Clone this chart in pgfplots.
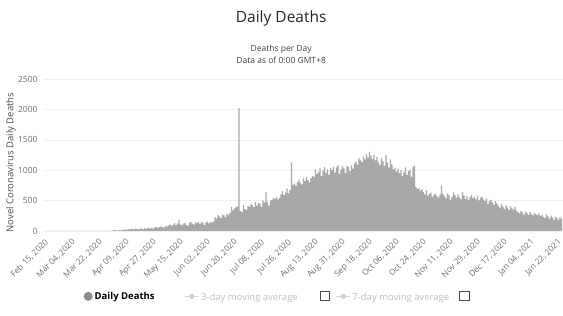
\documentclass[border=0pt]{standalone}
\usepackage{pgfplots}
\pgfplotsset{compat=1.18}
\usepackage{pgfplotstable}
\usepackage{fontspec}
\setmainfont{Open Sans}
\definecolor{bargray}{HTML}{A8A8A8}
\definecolor{ticklab}{HTML}{6E6E6E}
\newcommand\chk{{\setlength\fboxsep{0pt}\setlength\fboxrule{0.6pt}\color{black!70}\fbox{\rule{0pt}{9pt}\rule{9pt}{0pt}}}}
\pgfplotstableread[header=false,row sep=\\]{
0\\0\\0\\0\\0\\0\\0\\0\\0\\0\\
0\\0\\0\\0\\0\\0\\0\\0\\0\\0\\
0\\0\\0\\0\\0\\0\\1\\0\\1\\0\\
1\\0\\1\\3\\2\\1\\4\\3\\2\\6\\
4\\5\\8\\3\\9\\12\\14\\6\\13\\12\\
15\\18\\26\\14\\30\\27\\33\\35\\26\\40\\
32\\28\\38\\43\\25\\48\\36\\47\\52\\40\\
57\\35\\62\\73\\51\\66\\77\\68\\55\\82\\
75\\92\\110\\84\\103\\128\\96\\120\\180\\110\\
95\\122\\134\\100\\89\\137\\148\\116\\104\\140\\
131\\148\\118\\152\\136\\97\\142\\155\\127\\146\\
139\\158\\230\\205\\265\\240\\212\\270\\258\\224\\
285\\260\\300\\395\\340\\372\\388\\405\\2020\\330\\
312\\425\\360\\345\\410\\398\\440\\425\\392\\475\\
418\\462\\450\\398\\505\\470\\640\\482\\418\\505\\
512\\545\\528\\560\\520\\548\\602\\655\\590\\632\\
700\\618\\672\\1130\\760\\778\\742\\805\\850\\790\\
768\\865\\820\\885\\842\\798\\870\\905\\890\\1012\\
940\\968\\1035\\902\\992\\1050\\958\\1015\\925\\1040\\
1005\\1060\\962\\1045\\1078\\940\\1012\\1065\\1030\\950\\
1072\\1050\\985\\1080\\1025\\1112\\1145\\1090\\1198\\1160\\
1132\\1225\\1180\\1262\\1208\\1300\\1240\\1185\\1252\\1160\\
1215\\1130\\1082\\1198\\1145\\1065\\1248\\1130\\1042\\1180\\
1090\\1012\\1040\\975\\1025\\948\\1000\\902\\968\\1045\\
925\\985\\1010\\890\\1050\\1080\\720\\690\\705\\662\\
690\\640\\602\\668\\580\\612\\630\\560\\598\\615\\
575\\548\\600\\750\\612\\575\\538\\620\\590\\514\\
560\\635\\590\\548\\602\\555\\520\\640\\585\\528\\
575\\512\\558\\590\\540\\565\\522\\580\\505\\548\\
562\\520\\490\\535\\448\\500\\512\\470\\432\\490\\
455\\415\\380\\448\\402\\360\\425\\388\\345\\410\\
372\\350\\402\\338\\312\\288\\330\\305\\270\\322\\
295\\265\\312\\280\\258\\300\\275\\262\\290\\248\\
265\\232\\210\\275\\240\\198\\252\\225\\188\\236\\
212\\185\\230\\205\\
}\deaths
\begin{document}
\begin{tikzpicture}
\path[use as bounding box] (0,0) rectangle (563pt,316pt);
\begin{axis}[
  at={(44pt,85pt)}, anchor=south west,
  scale only axis, width=519pt, height=152pt,
  xmin=-2, xmax=344, ymin=0, ymax=2500,
  clip=false,
  axis line style={draw=none},
  major tick length=0pt,
  ytick={0,500,1000,1500,2000,2500},
  ymajorgrids, grid style={black!6},
  /pgf/number format/1000 sep={},
  /pgf/number format/assume math mode=true,
  yticklabel style={font=\fontsize{8.5}{10}\selectfont, text=ticklab, xshift=-3pt},
  xtick={0,18,...,342},
  xticklabels={{Feb 15, 2020},{Mar 04, 2020},{Mar 22, 2020},{Apr 09, 2020},{Apr 27, 2020},{May 15, 2020},{Jun 02, 2020},{Jun 20, 2020},{Jul 08, 2020},{Jul 26, 2020},{Aug 13, 2020},{Aug 31, 2020},{Sep 18, 2020},{Oct 06, 2020},{Oct 24, 2020},{Nov 11, 2020},{Nov 29, 2020},{Dec 17, 2020},{Jan 04, 2021},{Jan 22, 2021}},
  xticklabel style={font=\fontsize{8.3}{9}\selectfont, text=ticklab, rotate=45, anchor=north east, inner sep=1pt, xshift=-6pt, yshift=-2pt},
  ylabel={Novel Coronavirus Daily Deaths},
  ylabel style={at={(axis description cs:-0.064,0.45)}, anchor=center, font=\fontsize{9.5}{11}\selectfont, text=black!70},
  title={Daily Deaths},
  title style={at={(axis description cs:0.457,1.36)}, anchor=center, font=\fontsize{15.5}{18}\selectfont, text=black!85},
  legend style={at={(axis description cs:0.450,-0.43)}, anchor=center, draw=none, fill=none,
    legend columns=-1, font=\fontsize{9.5}{11}\selectfont,
    /tikz/every even column/.append style={column sep=0pt}},
]
\addplot[ybar, bar width=0.78, fill=bargray, draw=none,
  legend image code/.code={\fill[black!45] (0.25em,0pt) circle (4.5pt);}]
  table[x expr=\coordindex, y index=0] {\deaths};
\addlegendentry{\textbf{Daily Deaths}\kern28pt\null}
\addlegendimage{legend image code/.code={\draw[black!15] (-2pt,0)--(12pt,0); \fill[black!18] (5pt,0) circle (2.5pt);}}
\addlegendentry{\textcolor{black!25}{3-day moving average}\kern22pt\chk\kern4pt\null}
\addlegendimage{legend image code/.code={\draw[black!15] (-2pt,0)--(12pt,0); \fill[black!18] (5pt,0) circle (2.5pt);}}
\addlegendentry{\textcolor{black!25}{7-day moving average}\kern10pt\chk}
\node[align=center, font=\fontsize{8.5}{12}\selectfont, text=black!75] at (axis description cs:0.457,1.165) {Deaths per Day\\Data as of 0:00 GMT+8};
\end{axis}
\end{tikzpicture}
\end{document}
